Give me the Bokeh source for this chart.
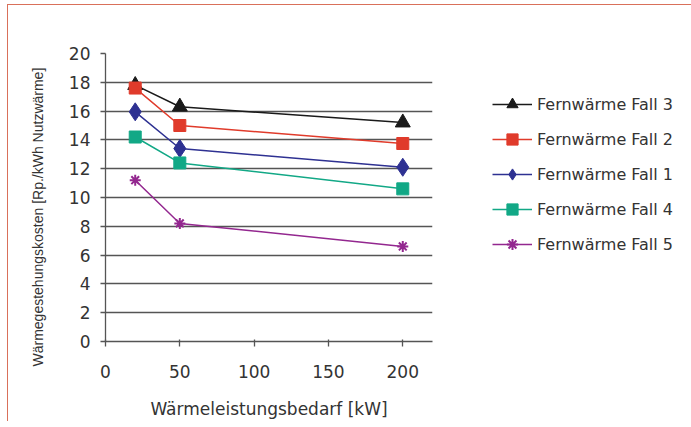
from bokeh.plotting import figure
from bokeh.models import Legend, LegendItem, FixedTicker, Range1d, Title
from bokeh.embed import file_html
from bokeh.resources import INLINE

x_kw = [20, 50, 200]
fall3 = [17.8, 16.3, 15.2]
fall2 = [17.6, 15.0, 13.75]
fall1 = [15.95, 13.4, 12.1]
fall4 = [14.2, 12.4, 10.6]
fall5 = [11.2, 8.2, 6.6]
series_names = ["Fernwärme Fall 3", "Fernwärme Fall 2", "Fernwärme Fall 1",
                "Fernwärme Fall 4", "Fernwärme Fall 5"]
x_ticks = [0, 50, 100, 150, 200]
y_ticks = [0, 2, 4, 6, 8, 10, 12, 14, 16, 18, 20]
x_label = "Wärmeleistungsbedarf [kW]"
y_label = "Wärmegestehungskosten [Rp./kWh Nutzwärme]"

FONT = "DejaVu Sans"
TXT = "#333333"
RED = "#d9705a"

p = figure(width=673, height=416, output_backend="svg", toolbar_location=None,
           x_range=Range1d(0, 220), y_range=Range1d(0, 20),
           frame_width=327, frame_height=288,
           min_border_left=97, min_border_right=249, min_border_top=48,
           min_border_bottom=80)
p.styles = {"margin-left": "7px", "margin-top": "4px",
            "border-left": f"1.5px solid {RED}",
            "border-top": f"1.5px solid {RED}",
            "border-right": f"1.5px solid {RED}"}
p.outline_line_color = None
p.background_fill_color = "white"
p.border_fill_color = "white"

p.xgrid.grid_line_color = None
p.ygrid.grid_line_color = "#555555"
p.ygrid.grid_line_width = 1.3
p.ygrid.ticker = FixedTicker(ticks=y_ticks)

p.xaxis.ticker = FixedTicker(ticks=x_ticks)
p.yaxis.ticker = FixedTicker(ticks=y_ticks)
for ax in (p.xaxis[0], p.yaxis[0]):
    ax.axis_line_color = "#555555"
    ax.axis_line_width = 1.3
    ax.major_tick_line_color = "#555555"
    ax.major_tick_line_width = 1.3
    ax.minor_tick_line_color = None
    ax.major_label_text_font = FONT
    ax.major_label_text_font_size = "17px"
    ax.major_label_text_color = TXT
    ax.axis_label_text_font = FONT
    ax.axis_label_text_font_style = "normal"
    ax.axis_label_text_color = TXT
p.xaxis.major_tick_out = 5
p.xaxis.major_tick_in = 2
p.yaxis.major_tick_out = 5
p.yaxis.major_tick_in = 0
p.xaxis.major_label_standoff = 18
p.yaxis.major_label_standoff = 10
p.xaxis.axis_label = x_label
p.xaxis.axis_label_text_font_size = "17px"
p.xaxis.axis_label_standoff = 18

ytitle = Title(text=y_label, align="left", offset=-25,
               text_font="Liberation Sans", text_font_size="14px",
               text_font_style="normal", text_color=TXT, standoff=39)
p.add_layout(ytitle, "left")

colors = ["#1a1a1a", "#e03b2b", "#2e3192", "#12a886", "#93278f"]
data = [fall3, fall2, fall1, fall4, fall5]
items = []
for name, ys, c in zip(series_names, data, colors):
    ln = p.line(x_kw, ys, line_color=c, line_width=1.5)
    if name.endswith("3"):
        mk = p.scatter(x_kw, ys, marker="triangle", size=15, fill_color=c, line_color=c)
    elif name.endswith("1"):
        mk = p.scatter(x_kw, ys, marker="diamond", size=18, fill_color=c, line_color=c)
    elif name.endswith("5"):
        mk = p.scatter(x_kw, ys, marker="asterisk", size=11, line_color=c, line_width=2)
    else:
        mk = p.scatter(x_kw, ys, marker="square", size=12, fill_color=c, line_color=c)
    items.append(LegendItem(label=name, renderers=[ln, mk]))

legend = Legend(items=items, location=(60, 83), orientation="vertical",
                glyph_width=40, glyph_height=28, spacing=7, padding=0, margin=0,
                label_text_font=FONT, label_text_font_size="16px",
                label_text_color=TXT, label_standoff=5,
                border_line_color=None, background_fill_alpha=0)
p.add_layout(legend, "right")

open("out.html", "w").write(file_html(p, INLINE))
